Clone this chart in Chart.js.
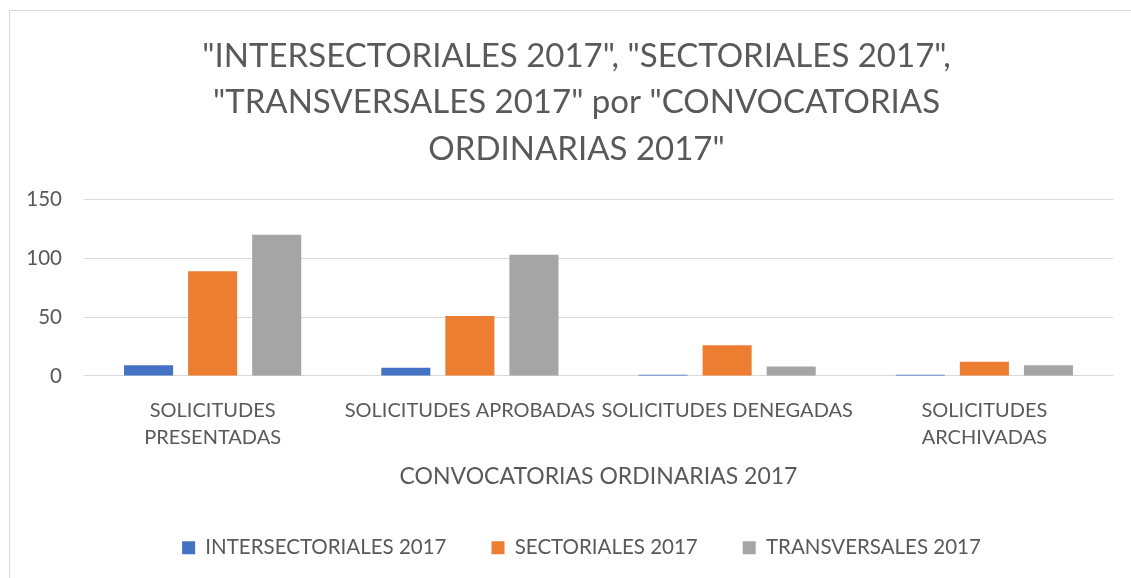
<!DOCTYPE html>
<html>
<head>
<meta charset="utf-8">
<script src="https://cdn.jsdelivr.net/npm/chart.js@4"></script>
<style>
  html, body { margin: 0; padding: 0; background: #ffffff; }
  #wrap { width: 1131px; height: 578px; position: relative; }
</style>
</head>
<body>
<div id="wrap"><canvas id="c" width="1131" height="578"></canvas></div>
<script>
const categories = [
  ["SOLICITUDES", "PRESENTADAS"],
  "SOLICITUDES APROBADAS",
  "SOLICITUDES DENEGADAS",
  ["SOLICITUDES", "ARCHIVADAS"]
];
const seriesNames = ["INTERSECTORIALES 2017", "SECTORIALES 2017", "TRANSVERSALES 2017"];
const intersectoriales = [9, 7, 1, 1];
const sectoriales = [89, 51, 26, 12];
const transversales = [120, 103, 8, 9];
const titleLines = [
  '"INTERSECTORIALES 2017", "SECTORIALES 2017",',
  '"TRANSVERSALES 2017" por "CONVOCATORIAS',
  'ORDINARIAS 2017"'
];
const xAxisTitle = "CONVOCATORIAS ORDINARIAS 2017";
const yTicks = [0, 50, 100, 150];

const colors = ["#4472C4", "#ED7D31", "#A5A5A5"];
const FONT = "Lato, 'Open Sans', sans-serif";
const TXT = "#595959";

const borderPlugin = {
  id: 'outerBorder',
  afterLayout(chart) {
    // center title and legend on the whole chart box (like the original)
    const shiftT = 20, shiftL = 25;
    if (chart.titleBlock) { chart.titleBlock.left += shiftT; chart.titleBlock.right += shiftT; }
    if (chart.legend) { chart.legend.left += shiftL; chart.legend.right += shiftL; }
  },
  beforeDraw(chart) {
    const ctx = chart.ctx;
    ctx.save();
    ctx.fillStyle = '#ffffff';
    ctx.fillRect(0, 0, chart.width, chart.height);
    ctx.strokeStyle = '#d9d9d9';
    ctx.lineWidth = 1;
    ctx.strokeRect(9.5, 10.5, chart.width + 5, chart.height + 5);
    ctx.restore();
  }
};

new Chart(document.getElementById('c'), {
  type: 'bar',
  data: {
    labels: categories,
    datasets: [
      { label: seriesNames[0], data: intersectoriales, backgroundColor: colors[0] },
      { label: seriesNames[1], data: sectoriales, backgroundColor: colors[1] },
      { label: seriesNames[2], data: transversales, backgroundColor: colors[2] }
    ]
  },
  options: {
    responsive: false,
    animation: false,
    devicePixelRatio: 1,
    categoryPercentage: 0.747,
    barPercentage: 0.766,
    layout: { padding: { left: 0, right: 18, top: 0, bottom: 10 } },
    plugins: {
      title: {
        display: true,
        text: titleLines,
        color: TXT,
        font: { family: FONT, size: 33, weight: 'normal', lineHeight: 1.41 },
        padding: { top: 33, bottom: 27 }
      },
      legend: {
        display: true,
        position: 'bottom',
        labels: {
          color: TXT,
          font: { family: FONT, size: 20.5 },
          boxWidth: 13,
          boxHeight: 13,
          padding: 45
        }
      },
      tooltip: { enabled: false }
    },
    scales: {
      x: {
        grid: { display: false, drawTicks: false },
        border: { display: false },
        ticks: { color: TXT, font: { family: FONT, size: 20, lineHeight: 1.35 }, padding: 21, maxRotation: 0, autoSkip: false },
        title: { display: true, text: xAxisTitle, color: TXT, font: { family: FONT, size: 23 }, padding: { top: -9, bottom: 2 } }
      },
      y: {
        min: 0,
        max: 150,
        afterFit(scale) { scale.width = 84; },
        afterBuildTicks(scale) { scale.ticks = yTicks.map(v => ({ value: v })); },
        grid: { color: '#d9d9d9', lineWidth: 1, drawTicks: false },
        border: { display: false },
        ticks: { color: TXT, font: { family: FONT, size: 20.5 }, padding: 22 }
      }
    }
  },
  plugins: [borderPlugin]
});
</script>
</body>
</html>
